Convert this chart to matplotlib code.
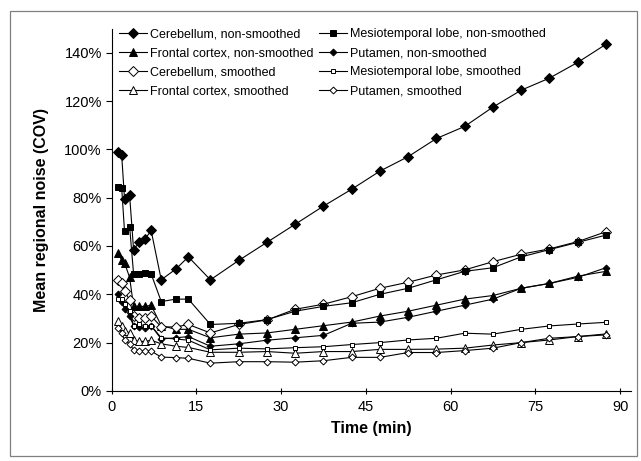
import matplotlib
matplotlib.use("Agg")
import matplotlib.pyplot as plt
from matplotlib.patches import Rectangle
from matplotlib.ticker import FuncFormatter

plt.rcParams['font.family'] = ['Liberation Sans', 'DejaVu Sans']

# time points (min)
time_min = [1.2, 1.8, 2.3, 3.2, 3.9, 4.9, 6.0, 7.0, 8.8, 11.4, 13.6, 17.5,
            22.5, 27.5, 32.5, 37.5, 42.5, 47.5, 52.5, 57.5, 62.5, 67.5, 72.5,
            77.5, 82.5, 87.5]

# noise (COV, %)
cereb_ns = [99, 97.5, 79.5, 81, 58.5, 61.5, 63, 66.5, 46, 50.5, 55.5, 46,
            54, 61.5, 69, 76.5, 83.5, 91, 97, 104.5, 109.5, 117.5, 124.5,
            129.5, 136, 143.5]
mesio_ns = [84.5, 84, 66, 68, 48.5, 48.5, 49, 48.5, 37, 38, 38, 27.5,
            28, 29.5, 33, 35, 36.5, 40, 42.5, 46, 49.5, 51, 55.5, 58.5, 61.5, 64.5]
front_ns = [57, 54, 53, 47, 35, 35, 35, 35.5, 27, 25.5, 25.5, 22,
            23.5, 24, 25.5, 27, 28.5, 31, 33, 35.5, 38, 39.5, 42.5, 44.5, 47.5, 49.5]
putam_ns = [40, 37, 34, 31, 27, 26.5, 26, 27, 21.5, 22, 22.5, 18.5,
            19.5, 21, 22, 23, 28, 28.5, 30.5, 33, 35.5, 38, 42.5, 44.5, 47, 51]
cereb_s = [46, 44.5, 41.5, 37.5, 31, 30, 30, 31, 26.5, 26.5, 27.5, 24,
           27.5, 29.4, 33.8, 35.9, 39, 42.5, 45, 48, 50.1, 53.5, 56.6, 58.8, 61.8, 65.9]
mesio_s = [38, 38, 36, 33, 27, 27.5, 27, 27, 22, 21.5, 21, 17,
           17.7, 17.4, 17.9, 18.3, 19.2, 20, 21.1, 21.8, 23.9, 23.5, 25.5, 26.9, 27.7, 28.4]
front_s = [29, 27, 25, 24, 21, 20.5, 20.5, 21, 19.5, 18.5, 18, 16,
           16, 16.3, 15.6, 16.3, 16.3, 17.2, 17.2, 17.3, 17.7, 19, 20, 21.1, 22.5, 23.6]
putam_s = [26, 24, 21, 19.5, 17, 16.5, 16.5, 16.5, 14, 13.8, 13.5, 11.5,
           12.1, 12.1, 11.9, 12.5, 13.9, 13.9, 15.9, 15.9, 16.7, 17.7, 20, 21.8, 22.5, 23.2]

fig = plt.figure(figsize=(6.41, 4.61), dpi=100)
fig.patches.append(Rectangle((10 / 641, 5 / 461), 627 / 641, 445 / 461,
                             transform=fig.transFigure, fill=False,
                             edgecolor='#808080', lw=0.9))
ax = fig.add_axes([0.174, 0.152, 0.811, 0.786])

# (label, data, marker, size, filled)
series = [
    ("Cerebellum, non-smoothed", cereb_ns, 'D', 5.5, True),
    ("Frontal cortex, non-smoothed", front_ns, '^', 6, True),
    ("Cerebellum, smoothed", cereb_s, 'D', 5.5, False),
    ("Frontal cortex, smoothed", front_s, '^', 6, False),
    ("Mesiotemporal lobe, non-smoothed", mesio_ns, 's', 4, True),
    ("Putamen, non-smoothed", putam_ns, 'D', 3.5, True),
    ("Mesiotemporal lobe, smoothed", mesio_s, 's', 3.5, False),
    ("Putamen, smoothed", putam_s, 'D', 3.5, False),
]
for label, vals, mk, ms, filled in series:
    ax.plot(time_min, vals, color='black', lw=0.8, marker=mk, markersize=ms,
            markerfacecolor='black' if filled else 'white',
            markeredgecolor='black', markeredgewidth=0.7, label=label)

ax.set_xlim(0, 92)
ax.set_ylim(0, 150)
ax.set_xticks([0, 15, 30, 45, 60, 75, 90])
ax.set_yticks([0, 20, 40, 60, 80, 100, 120, 140])
ax.yaxis.set_major_formatter(FuncFormatter(lambda v, p: "{:d}%".format(int(v))))
ax.tick_params(axis='y', direction='out', length=4, labelsize=10.5, pad=3)
ax.tick_params(axis='x', direction='inout', length=5, labelsize=10.5, pad=4)
ax.spines['top'].set_visible(False)
ax.spines['right'].set_visible(False)
ax.set_xlabel("Time (min)", fontsize=11.5, fontweight='bold', labelpad=5)
ax.set_ylabel("Mean regional noise (COV)", fontsize=11.5, fontweight='bold', labelpad=11)

ax.legend(ncol=2, loc='upper left', bbox_to_anchor=(0.0, 1.022), frameon=False,
          fontsize=9, handlelength=2.2, handletextpad=0.25, columnspacing=0.5,
          labelspacing=0.57, borderaxespad=0.2)

fig.savefig("out.png", dpi=100)
